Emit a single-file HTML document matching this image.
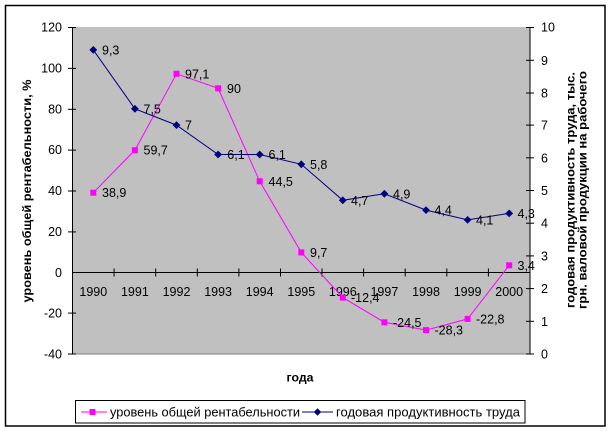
<!DOCTYPE html>
<html><head><meta charset="utf-8"><style>
html,body{margin:0;padding:0;background:#fff;}
svg{display:block;}
text{font-family:"Liberation Sans",Arial,sans-serif;font-size:12.5px;fill:#000;}
.b{font-weight:bold;font-size:12.3px;}
</style></head><body>
<svg width="613" height="433" viewBox="0 0 613 433" xmlns="http://www.w3.org/2000/svg">
<rect x="0" y="0" width="613" height="433" fill="#fff"/>
<rect x="5.5" y="5.5" width="599.5" height="420.5" fill="none" stroke="#000" stroke-width="1.5"/>
<!-- plot area -->
<rect x="72.5" y="27" width="457.5" height="327" fill="#c0c0c0"/>
<line x1="72.5" y1="354" x2="530" y2="354" stroke="#808080" stroke-width="1"/>
<!-- left axis -->
<line x1="72.5" y1="27" x2="72.5" y2="354.5" stroke="#000" stroke-width="1"/>
<g stroke="#000" stroke-width="1">
<line x1="68" y1="27.5" x2="76" y2="27.5"/>
<line x1="68" y1="68.4" x2="76" y2="68.4"/>
<line x1="68" y1="109.3" x2="76" y2="109.3"/>
<line x1="68" y1="150.1" x2="76" y2="150.1"/>
<line x1="68" y1="191" x2="76" y2="191"/>
<line x1="68" y1="231.9" x2="76" y2="231.9"/>
<line x1="68" y1="313.1" x2="76" y2="313.1"/>
<line x1="68" y1="354" x2="76" y2="354"/>
</g>
<g text-anchor="end">
<text x="62" y="31.5">120</text>
<text x="62" y="72.4">100</text>
<text x="62" y="113.3">80</text>
<text x="62" y="154.1">60</text>
<text x="62" y="195">40</text>
<text x="62" y="235.9">20</text>
<text x="62" y="276.8">0</text>
<text x="62" y="317.6">-20</text>
<text x="62" y="358.5">-40</text>
</g>
<!-- right axis -->
<line x1="530" y1="27" x2="530" y2="354.5" stroke="#000" stroke-width="1"/>
<g stroke="#000" stroke-width="1">
<line x1="526" y1="27.5" x2="534" y2="27.5"/>
<line x1="526" y1="60.3" x2="534" y2="60.3"/>
<line x1="526" y1="93" x2="534" y2="93"/>
<line x1="526" y1="125.1" x2="534" y2="125.1"/>
<line x1="526" y1="157.8" x2="534" y2="157.8"/>
<line x1="526" y1="190.5" x2="534" y2="190.5"/>
<line x1="526" y1="223.2" x2="534" y2="223.2"/>
<line x1="526" y1="255.9" x2="534" y2="255.9"/>
<line x1="526" y1="288.6" x2="534" y2="288.6"/>
<line x1="526" y1="321.3" x2="534" y2="321.3"/>
<line x1="526" y1="354" x2="534" y2="354"/>
</g>
<g>
<text x="541" y="31.5">10</text>
<text x="541" y="64.8">9</text>
<text x="541" y="97.5">8</text>
<text x="541" y="129.6">7</text>
<text x="541" y="162.3">6</text>
<text x="541" y="195">5</text>
<text x="541" y="227.7">4</text>
<text x="541" y="260.4">3</text>
<text x="541" y="293.1">2</text>
<text x="541" y="325.8">1</text>
<text x="541" y="358.5">0</text>
</g>
<!-- zero line and category ticks -->
<line x1="72.5" y1="272.5" x2="530" y2="272.5" stroke="#000" stroke-width="1"/>
<g stroke="#000" stroke-width="1">
<line x1="114.1" y1="268.5" x2="114.1" y2="276.5"/>
<line x1="155.7" y1="268.5" x2="155.7" y2="276.5"/>
<line x1="197.3" y1="268.5" x2="197.3" y2="276.5"/>
<line x1="238.9" y1="268.5" x2="238.9" y2="276.5"/>
<line x1="280.5" y1="268.5" x2="280.5" y2="276.5"/>
<line x1="322.0" y1="268.5" x2="322.0" y2="276.5"/>
<line x1="363.6" y1="268.5" x2="363.6" y2="276.5"/>
<line x1="405.2" y1="268.5" x2="405.2" y2="276.5"/>
<line x1="446.8" y1="268.5" x2="446.8" y2="276.5"/>
<line x1="488.4" y1="268.5" x2="488.4" y2="276.5"/>
</g>
<g text-anchor="middle">
<text x="93.3" y="296">1990</text>
<text x="134.9" y="296">1991</text>
<text x="176.5" y="296">1992</text>
<text x="218.1" y="296">1993</text>
<text x="259.7" y="296">1994</text>
<text x="301.3" y="296">1995</text>
<text x="342.8" y="296">1996</text>
<text x="384.4" y="296">1997</text>
<text x="426.0" y="296">1998</text>
<text x="467.6" y="296">1999</text>
<text x="509.2" y="296">2000</text>
</g>
<!-- pink series -->
<polyline fill="none" stroke="#ff00ff" stroke-width="1" points="93.3,192.7 134.9,150.2 176.5,73.8 218.1,88.3 259.7,181.3 301.3,252.4 342.8,297.6 384.4,322.3 426.0,330.1 467.6,318.9 509.2,265.3"/>
<g fill="#ff00ff">
<rect x="90.3" y="189.7" width="6" height="6"/>
<rect x="131.9" y="147.2" width="6" height="6"/>
<rect x="173.5" y="70.8" width="6" height="6"/>
<rect x="215.1" y="85.3" width="6" height="6"/>
<rect x="256.7" y="178.3" width="6" height="6"/>
<rect x="298.3" y="249.4" width="6" height="6"/>
<rect x="339.8" y="294.6" width="6" height="6"/>
<rect x="381.4" y="319.3" width="6" height="6"/>
<rect x="423.0" y="327.1" width="6" height="6"/>
<rect x="464.6" y="315.9" width="6" height="6"/>
<rect x="506.2" y="262.3" width="6" height="6"/>
</g>
<!-- blue series -->
<polyline fill="none" stroke="#000080" stroke-width="1" points="93.3,49.9 134.9,108.8 176.5,125.1 218.1,154.5 259.7,154.5 301.3,164.3 342.8,200.3 384.4,193.8 426.0,210.1 467.6,219.9 509.2,213.4"/>
<g fill="#000080">
<polygon points="93.3,46 97.2,49.9 93.3,53.8 89.4,49.9"/>
<polygon points="134.9,104.9 138.8,108.8 134.9,112.7 131,108.8"/>
<polygon points="176.5,121.2 180.4,125.1 176.5,129 172.6,125.1"/>
<polygon points="218.1,150.6 222,154.5 218.1,158.4 214.2,154.5"/>
<polygon points="259.7,150.6 263.6,154.5 259.7,158.4 255.8,154.5"/>
<polygon points="301.3,160.4 305.2,164.3 301.3,168.2 297.4,164.3"/>
<polygon points="342.8,196.4 346.7,200.3 342.8,204.2 338.9,200.3"/>
<polygon points="384.4,189.9 388.3,193.8 384.4,197.7 380.5,193.8"/>
<polygon points="426,206.2 429.9,210.1 426,214 422.1,210.1"/>
<polygon points="467.6,216 471.5,219.9 467.6,223.8 463.7,219.9"/>
<polygon points="509.2,209.5 513.1,213.4 509.2,217.3 505.3,213.4"/>
</g>
<!-- pink labels -->
<g>
<text x="102" y="197.2">38,9</text>
<text x="143.5" y="154.7">59,7</text>
<text x="185" y="78.3">97,1</text>
<text x="227" y="92.8">90</text>
<text x="268.5" y="185.8">44,5</text>
<text x="310" y="256.9">9,7</text>
<text x="351" y="302.1">-12,4</text>
<text x="393" y="326.8">-24,5</text>
<text x="434.5" y="334.6">-28,3</text>
<text x="476" y="323.4">-22,8</text>
<text x="517.5" y="269.8">3,4</text>
</g>
<!-- blue labels -->
<g>
<text x="102" y="54.4">9,3</text>
<text x="143.5" y="113.3">7,5</text>
<text x="185" y="129.6">7</text>
<text x="227.3" y="159">6,1</text>
<text x="268.5" y="159">6,1</text>
<text x="310" y="168.8">5,8</text>
<text x="351" y="204.8">4,7</text>
<text x="393" y="198.3">4,9</text>
<text x="434.5" y="214.6">4,4</text>
<text x="476" y="224.4">4,1</text>
<text x="517.5" y="217.9">4,3</text>
</g>
<!-- axis titles -->
<text class="b" text-anchor="middle" transform="translate(31,191) rotate(-90)" textLength="223" lengthAdjust="spacingAndGlyphs">уровень общей рентабельности, %</text>
<text class="b" text-anchor="middle" transform="translate(574.5,190) rotate(-90)" textLength="236" lengthAdjust="spacingAndGlyphs">годовая продуктивность труда, тыс.</text>
<text class="b" text-anchor="middle" transform="translate(586.5,190) rotate(-90)" textLength="238" lengthAdjust="spacingAndGlyphs">грн. валовой продукции на рабочего</text>
<text class="b" x="300" y="381.5" text-anchor="middle">года</text>
<!-- legend -->
<rect x="75.5" y="400.5" width="449.5" height="22.5" fill="#fff" stroke="#000" stroke-width="1"/>
<line x1="81" y1="412" x2="107" y2="412" stroke="#ff00ff" stroke-width="1"/>
<rect x="89.5" y="409" width="6" height="6" fill="#ff00ff"/>
<text x="110" y="416.5" textLength="190" lengthAdjust="spacingAndGlyphs">уровень общей рентабельности</text>
<line x1="302" y1="412" x2="333" y2="412" stroke="#000080" stroke-width="1"/>
<polygon points="317.5,408.3 321.2,412 317.5,415.7 313.8,412" fill="#000080"/>
<text x="336" y="416.5" textLength="184" lengthAdjust="spacingAndGlyphs">годовая продуктивность труда</text>
</svg>
</body></html>
